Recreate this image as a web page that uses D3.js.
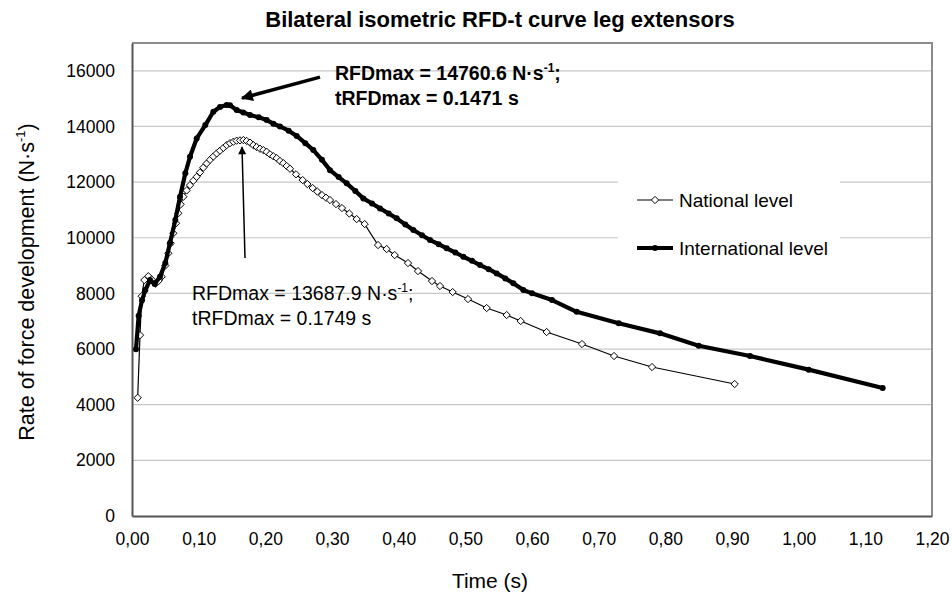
<!DOCTYPE html>
<html>
<head>
<meta charset="utf-8">
<script src="https://cdn.jsdelivr.net/npm/d3@7"></script>
<style>
body { margin: 0; background: #fff; }
text { font-family: Arial, "Liberation Sans", sans-serif; fill: #000; }
</style>
</head>
<body>
<div class="chart"></div>
<script>
// time (s) and RFD (N/s)
let nationalTime = [0.0085, 0.012, 0.0145, 0.0185, 0.0245, 0.0295, 0.035, 0.040, 0.0445, 0.050,
    0.0545, 0.058, 0.062, 0.066, 0.0695, 0.073, 0.077, 0.082, 0.087, 0.092,
    0.097, 0.102, 0.107, 0.112, 0.117, 0.122, 0.127, 0.132, 0.137, 0.142,
    0.147, 0.152, 0.157, 0.162, 0.167, 0.172, 0.177, 0.182, 0.187, 0.192,
    0.197, 0.202, 0.207, 0.212, 0.217, 0.222, 0.227, 0.232, 0.237, 0.246,
    0.256, 0.263, 0.271, 0.278, 0.285, 0.291, 0.297, 0.306, 0.315, 0.326,
    0.337, 0.349, 0.369, 0.382, 0.394, 0.414, 0.429, 0.450, 0.462, 0.481,
    0.504, 0.532, 0.562, 0.583, 0.622, 0.675, 0.723, 0.780, 0.904];
let nationalRfd = [4250, 6500, 7900, 8480, 8620, 8500, 8350, 8450, 8600, 9000,
    9440, 9800, 10160, 10520, 10880, 11200, 11475, 11700, 11890, 12050,
    12190, 12350, 12520, 12670, 12800, 12920, 13030, 13130, 13230, 13330,
    13400, 13450, 13490, 13500, 13510, 13480, 13420, 13330, 13260, 13200,
    13150, 13090, 13000, 12930, 12860, 12760, 12680, 12580, 12480, 12280,
    12073, 11930, 11786, 11660, 11534, 11440, 11355, 11210, 11067, 10870,
    10672, 10492, 9738, 9594, 9378, 9091, 8803, 8444, 8264, 8049,
    7797, 7474, 7222, 7007, 6612, 6180, 5749, 5354, 4743];

let internationalTime = [0.006, 0.010, 0.015, 0.020, 0.027, 0.034, 0.042, 0.050, 0.057, 0.065,
    0.072, 0.080, 0.087, 0.097, 0.110, 0.122, 0.132, 0.142, 0.147, 0.157,
    0.167, 0.177, 0.190, 0.202, 0.212, 0.222, 0.235, 0.247, 0.260, 0.272,
    0.285, 0.297, 0.310, 0.322, 0.335, 0.347, 0.360, 0.372, 0.385, 0.397,
    0.410, 0.422, 0.435, 0.447, 0.460, 0.472, 0.485, 0.497, 0.510, 0.522,
    0.535, 0.547, 0.560, 0.572, 0.587, 0.600, 0.630, 0.667, 0.730, 0.792,
    0.850, 0.927, 1.015, 1.126];
let internationalRfd = [5990, 7200, 7750, 8120, 8480, 8340, 8600, 9090, 9810, 10640,
    11470, 12320, 12910, 13570, 14050, 14530, 14700, 14770, 14760, 14590,
    14500, 14410, 14330, 14230, 14100, 14000, 13850, 13660, 13400, 13150,
    12800, 12430, 12180, 11955, 11680, 11415, 11230, 11056, 10870, 10697,
    10480, 10277, 10090, 9917, 9770, 9619, 9470, 9317, 9170, 9019,
    8870, 8720, 8540, 8362, 8120, 8002, 7760, 7340, 6925, 6565,
    6120, 5750, 5260, 4600];

let seriesNames = ["National level", "International level"];
let xTickValues = [0, 0.1, 0.2, 0.3, 0.4, 0.5, 0.6, 0.7, 0.8, 0.9, 1.0, 1.1, 1.2];
let yTickValues = [0, 2000, 4000, 6000, 8000, 10000, 12000, 14000, 16000];

let svgWidth = 952;
let svgHeight = 593;
let margin = {
    top: 43,
    left: 132,
    right: 20,
    bottom: 77
}
let width = svgWidth - margin.left - margin.right;
let height = svgHeight - margin.top - margin.bottom;

let svg = d3
    .select(".chart")
    .append("svg")
    .attr("width", svgWidth)
    .attr("height", svgHeight);

let defs = svg.append("defs");
defs.append("marker")
    .attr("id", "headBold")
    .attr("markerUnits", "userSpaceOnUse")
    .attr("viewBox", "0 0 10 10")
    .attr("refX", 9).attr("refY", 5)
    .attr("markerWidth", 16).attr("markerHeight", 12)
    .attr("orient", "auto")
    .append("path").attr("d", "M0,0 L10,5 L0,10 Z").attr("fill", "#000");
defs.append("marker")
    .attr("id", "headThin")
    .attr("markerUnits", "userSpaceOnUse")
    .attr("viewBox", "0 0 10 10")
    .attr("refX", 9).attr("refY", 5)
    .attr("markerWidth", 10).attr("markerHeight", 8)
    .attr("orient", "auto")
    .append("path").attr("d", "M0,0 L10,5 L0,10 Z").attr("fill", "#000");

let chartgroup = svg.append("g")
    .attr("transform", `translate(${margin.left}, ${margin.top})`);

let xLinearScale = d3.scaleLinear().domain([0, 1.2]).range([0, width]);
let yLinearScale = d3.scaleLinear().domain([0, 17000]).range([height, 0]);

// gridlines
chartgroup.append("g")
    .selectAll("line")
    .data(yTickValues.filter(d => d > 0))
    .enter()
    .append("line")
    .attr("x1", 0)
    .attr("x2", width)
    .attr("y1", d => yLinearScale(d))
    .attr("y2", d => yLinearScale(d))
    .attr("stroke", "#c8c8c8")
    .attr("stroke-width", 1.2);

// plot border (top/right)
chartgroup.append("path")
    .attr("d", `M0,0 H${width} V${height}`)
    .attr("fill", "none")
    .attr("stroke", "#8c8c8c")
    .attr("stroke-width", 2);

let bottomAxis = d3.axisBottom(xLinearScale)
    .tickValues(xTickValues)
    .tickSize(0)
    .tickPadding(17)
    .tickFormat(d => d3.format(".2f")(d).replace(".", ","));
let leftAxis = d3.axisLeft(yLinearScale)
    .tickValues(yTickValues)
    .tickSize(0)
    .tickPadding(17)
    .tickFormat(d3.format("d"));

let xAxis = chartgroup.append("g")
    .attr("transform", `translate(0, ${height})`)
    .call(bottomAxis);
let yAxis = chartgroup.append("g")
    .call(leftAxis);
[xAxis, yAxis].forEach(function(ax) {
    ax.select(".domain").attr("stroke", "#555").attr("stroke-width", 2);
    ax.selectAll("text")
        .style("font-family", "Arial, 'Liberation Sans', sans-serif")
        .style("font-size", "17.5px")
        .attr("fill", "#000");
});

// series
let national = nationalTime.map((t, i) => ({t: t, v: nationalRfd[i]}));
let international = internationalTime.map((t, i) => ({t: t, v: internationalRfd[i]}));

let line = d3.line()
    .x(d => xLinearScale(d.t))
    .y(d => yLinearScale(d.v));

chartgroup.append("path")
    .datum(national)
    .attr("d", line)
    .attr("fill", "none")
    .attr("stroke", "#000")
    .attr("stroke-width", 1.2);

let diamond = d3.symbol().type(d3.symbolDiamond2).size(34);
chartgroup.append("g")
    .selectAll("path")
    .data(national)
    .enter()
    .append("path")
    .attr("d", diamond)
    .attr("transform", d => `translate(${xLinearScale(d.t)}, ${yLinearScale(d.v)})`)
    .attr("fill", "#fff")
    .attr("stroke", "#000")
    .attr("stroke-width", 1);

chartgroup.append("path")
    .datum(international)
    .attr("d", line)
    .attr("fill", "none")
    .attr("stroke", "#000")
    .attr("stroke-width", 4.2)
    .attr("stroke-linejoin", "round");

chartgroup.append("g")
    .selectAll("circle")
    .data(international)
    .enter()
    .append("circle")
    .attr("cx", d => xLinearScale(d.t))
    .attr("cy", d => yLinearScale(d.v))
    .attr("r", 3)
    .attr("fill", "#000");

// legend
let legend = chartgroup.append("g")
    .attr("transform", `translate(${618 - margin.left}, ${172 - margin.top})`);
legend.append("rect")
    .attr("width", 222)
    .attr("height", 104)
    .attr("fill", "#fff");
let legendRows = legend.selectAll("g")
    .data(seriesNames)
    .enter()
    .append("g")
    .attr("transform", (d, i) => `translate(0, ${28 + i * 48})`);
legendRows.append("line")
    .attr("x1", 19).attr("x2", 55)
    .attr("stroke", "#000")
    .attr("stroke-width", (d, i) => i === 0 ? 1.2 : 4.2);
legendRows.filter((d, i) => i === 0)
    .append("path")
    .attr("d", diamond)
    .attr("transform", "translate(37, 0)")
    .attr("fill", "#fff")
    .attr("stroke", "#000");
legendRows.filter((d, i) => i === 1)
    .append("circle")
    .attr("cx", 37).attr("r", 3).attr("fill", "#000");
legendRows.append("text")
    .attr("x", 61)
    .attr("dy", "0.35em")
    .style("font-size", "19px")
    .text(d => d);

// annotations
chartgroup.append("line")
    .attr("x1", xLinearScale(0.282)).attr("y1", yLinearScale(15775))
    .attr("x2", xLinearScale(0.165)).attr("y2", yLinearScale(15020))
    .attr("stroke", "#000")
    .attr("stroke-width", 3.5)
    .attr("marker-end", "url(#headBold)");
chartgroup.append("line")
    .attr("x1", xLinearScale(0.1695)).attr("y1", yLinearScale(9270))
    .attr("x2", xLinearScale(0.165)).attr("y2", yLinearScale(13260))
    .attr("stroke", "#000")
    .attr("stroke-width", 1.5)
    .attr("marker-end", "url(#headThin)");

function annotate(t, v, lines, bold) {
    let g = chartgroup.append("text")
        .attr("x", xLinearScale(t))
        .attr("y", yLinearScale(v))
        .style("font-size", "19.5px")
        .style("font-weight", bold ? "bold" : "normal");
    g.append("tspan").text(lines[0]);
    g.append("tspan").attr("dy", -8).style("font-size", "12px").text("-1");
    g.append("tspan").attr("dy", 8).text(";");
    g.append("tspan")
        .attr("x", xLinearScale(t))
        .attr("dy", 25)
        .text(lines[1]);
}
annotate(0.3045, 15667, ["RFDmax = 14760.6 N·s", "tRFDmax = 0.1471 s"], true);
annotate(0.09, 7761, ["RFDmax = 13687.9 N·s", "tRFDmax = 0.1749 s"], false);

// titles
svg.append("text")
    .attr("x", 500)
    .attr("y", 27)
    .attr("text-anchor", "middle")
    .style("font-size", "22px")
    .style("font-weight", "bold")
    .text("Bilateral isometric RFD-t curve leg extensors");

svg.append("text")
    .attr("x", 490)
    .attr("y", 588)
    .attr("text-anchor", "middle")
    .style("font-size", "21px")
    .text("Time (s)");

let yLabel = svg.append("text")
    .attr("transform", "translate(34, 282) rotate(-90)")
    .attr("text-anchor", "middle")
    .style("font-size", "21.5px");
yLabel.append("tspan").text("Rate of force development (N·s");
yLabel.append("tspan").attr("dy", -9).style("font-size", "13px").text("-1");
yLabel.append("tspan").attr("dy", 9).text(")");
</script>
</body>
</html>
